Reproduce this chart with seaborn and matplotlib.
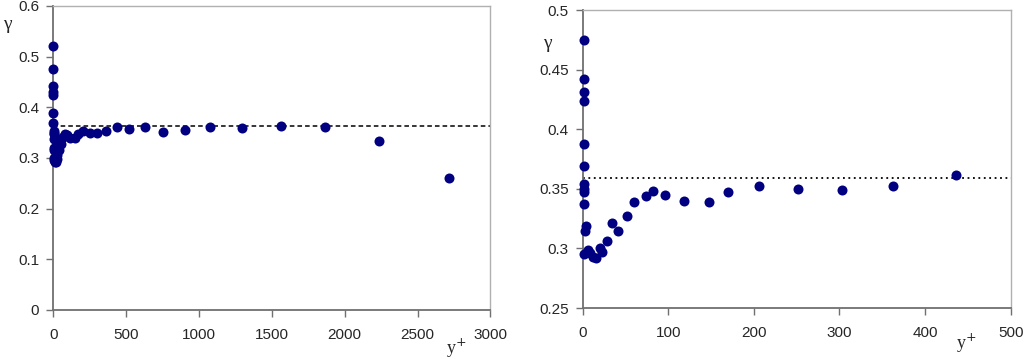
import matplotlib
matplotlib.use('Agg')
import matplotlib.pyplot as plt
import seaborn as sns
import pandas as pd

# right panel: near-wall points
yplus_near = [1, 1, 1, 1, 1, 1, 2, 2, 2, 2, 4, 3, 2, 6, 9, 12, 16, 20, 23, 28,
              34, 41, 52, 60, 74, 82, 96, 118, 148, 170, 206, 252, 303, 362, 436]
gamma_near = [0.475, 0.442, 0.431, 0.424, 0.388, 0.369, 0.354, 0.350, 0.347, 0.337,
              0.319, 0.315, 0.295, 0.299, 0.296, 0.293, 0.292, 0.300, 0.297, 0.3065,
              0.321, 0.315, 0.327, 0.339, 0.344, 0.348, 0.3445, 0.340, 0.339, 0.347,
              0.3526, 0.350, 0.349, 0.3526, 0.3613]

# left panel: extra points further out
yplus_far = [1, 518, 628, 751, 902, 1075, 1297, 1560, 1866, 2235, 2717]
gamma_far = [0.52, 0.357, 0.362, 0.351, 0.355, 0.362, 0.359, 0.363, 0.361, 0.334, 0.2605]

ref_left = 0.364
ref_right = 0.359

left_df = pd.DataFrame({'yplus': yplus_near + yplus_far, 'gamma': gamma_near + gamma_far})
right_df = pd.DataFrame({'yplus': yplus_near, 'gamma': gamma_near})

sns.set_style('white')
plt.rcParams['font.family'] = ['Liberation Sans', 'DejaVu Sans']

fig = plt.figure(figsize=(10.24, 3.59), dpi=100)
ax1 = fig.add_axes([0.052, 0.1365, 0.427, 0.847])
ax2 = fig.add_axes([0.569, 0.142, 0.418, 0.830])

dot = '#000080'

def style(ax):
    for s in ['left', 'bottom']:
        ax.spines[s].set_color('#707070')
        ax.spines[s].set_linewidth(1.3)
    for s in ['top', 'right']:
        ax.spines[s].set_color('#b0b0b0')
        ax.spines[s].set_linewidth(1.0)
    ax.tick_params(axis='both', direction='out', length=5, width=1, color='#707070',
                   labelsize=11, left=True, bottom=True)
    ax.tick_params(axis='x', pad=8)
    ax.tick_params(axis='y', pad=5)
    ax.set_xlabel('')
    ax.set_ylabel('')

sns.scatterplot(data=left_df, x='yplus', y='gamma', ax=ax1, color=dot, s=52,
                edgecolor=dot, linewidth=0, zorder=3, clip_on=False)
ax1.axhline(ref_left, color='black', linestyle=(0, (3, 2)), linewidth=1.1, zorder=2)
ax1.set_xlim(0, 3000)
ax1.set_ylim(0, 0.6)
ax1.set_xticks([0, 500, 1000, 1500, 2000, 2500, 3000])
ax1.set_yticks([0, 0.1, 0.2, 0.3, 0.4, 0.5, 0.6])
ax1.set_yticklabels(['0', '0.1', '0.2', '0.3', '0.4', '0.5', '0.6'])
style(ax1)

sns.scatterplot(data=right_df, x='yplus', y='gamma', ax=ax2, color=dot, s=52,
                edgecolor=dot, linewidth=0, zorder=3, clip_on=False)
ax2.axhline(ref_right, color='black', linestyle=(0, (1, 2)), linewidth=1.3, zorder=2)
ax2.set_xlim(0, 500)
ax2.set_ylim(0.25, 0.5)
ax2.set_xticks([0, 100, 200, 300, 400, 500])
ax2.set_yticks([0.25, 0.3, 0.35, 0.4, 0.45, 0.5])
ax2.set_yticklabels(['0.25', '0.3', '0.35', '0.4', '0.45', '0.5'])
style(ax2)

serif = ['Liberation Serif', 'DejaVu Serif']
fig.text(0.003, 0.933, 'γ', family=serif, fontsize=14, ha='left', va='center')
fig.text(0.530, 0.880, 'γ', family=serif, fontsize=14, ha='left', va='center')
fig.text(0.446, 0.030, 'y$^{+}$', family=serif, fontsize=13, ha='center', va='center')
fig.text(0.944, 0.043, 'y$^{+}$', family=serif, fontsize=13, ha='center', va='center')

plt.savefig('out.png', dpi=100)
plt.close()
